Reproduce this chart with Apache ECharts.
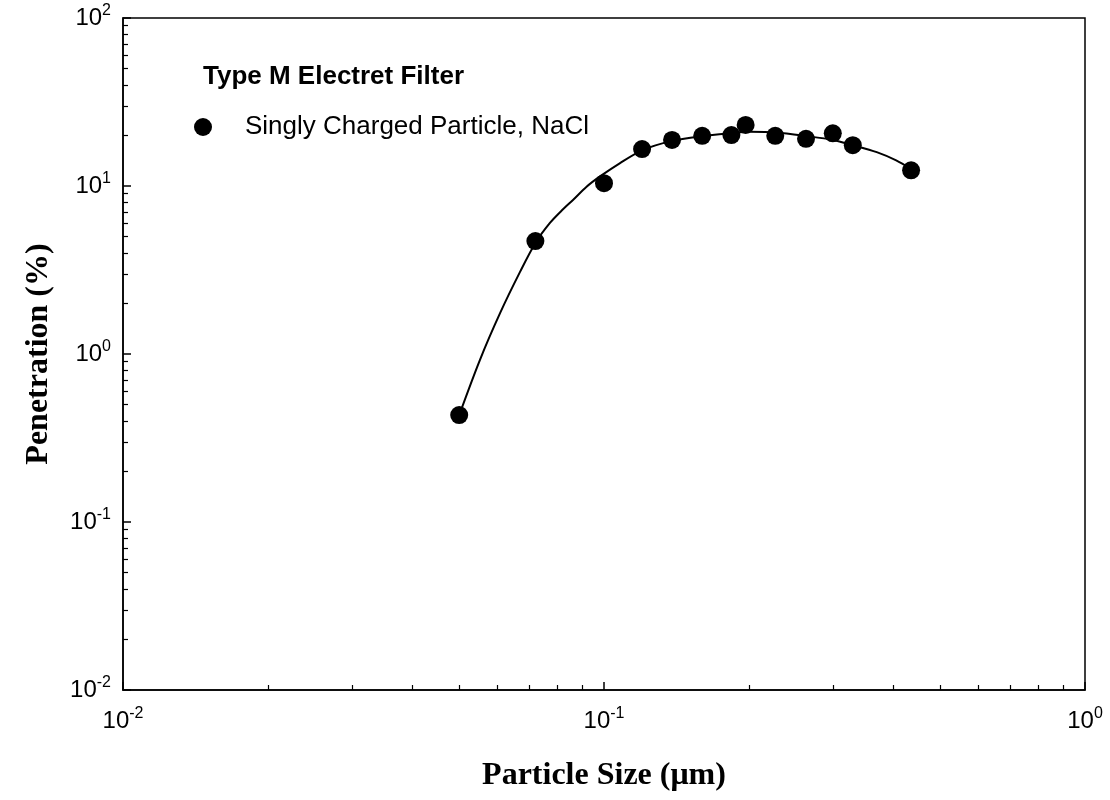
<!DOCTYPE html>
<html>
<head>
<meta charset="utf-8">
<script src="https://cdn.jsdelivr.net/npm/echarts@6/dist/echarts.min.js"></script>
<style>
html,body{margin:0;padding:0;background:#fff;}
#chart{width:1110px;height:800px;}
</style>
</head>
<body>
<div id="chart"></div>
<script>
// Measured points: particle size (µm) and penetration (%)
const sizes = [0.05, 0.072, 0.1, 0.12, 0.1385, 0.16, 0.184, 0.197, 0.227, 0.263, 0.299, 0.329, 0.435];
const penetration = [0.433, 4.7, 10.4, 16.6, 18.8, 19.9, 20.1, 23.1, 19.9, 19.1, 20.6, 17.5, 12.4];

// Fitted curve
const curveX = [0.05, 0.0552, 0.0608, 0.0669, 0.0722, 0.0772, 0.0815, 0.0862, 0.092, 0.0981, 0.108, 0.12, 0.1378, 0.16, 0.1837, 0.201, 0.228, 0.264, 0.299, 0.329, 0.369, 0.405, 0.435];
const curveY = [0.433, 0.921, 1.75, 3.08, 4.64, 6.03, 7.1, 8.26, 9.9, 11.4, 13.7, 16.3, 18.5, 19.8, 20.6, 21.0, 20.8, 19.8, 18.8, 17.5, 15.9, 14.2, 12.6];

const xMajor = [0.01, 0.1, 1];
const yMajor = [0.01, 0.1, 1, 10, 100];
const xMinor = [0.02,0.03,0.04,0.05,0.06,0.07,0.08,0.09,0.2,0.3,0.4,0.5,0.6,0.7,0.8,0.9];
const yMinor = [0.02,0.03,0.04,0.05,0.06,0.07,0.08,0.09,0.2,0.3,0.4,0.5,0.6,0.7,0.8,0.9,2,3,4,5,6,7,8,9,20,30,40,50,60,70,80,90];

const titleText = 'Type M Electret Filter';
const seriesName = 'Singly Charged Particle, NaCl';
const xName = 'Particle Size (\u03bcm)';
const yName = 'Penetration (%)';

const sans = 'Liberation Sans, Arial, sans-serif';
const serif = 'Liberation Serif, Times New Roman, serif';

function powLabel(v) {
  const e = Math.round(Math.log10(v));
  return '{b|10}{s|' + e + '}';
}
const richLabel = {
  b: {fontSize: 24, fontFamily: sans, color: '#000', lineHeight: 30},
  s: {fontSize: 16, fontFamily: sans, color: '#000', verticalAlign: 'top', lineHeight: 16}
};

const chart = echarts.init(document.getElementById('chart'));
chart.setOption({
  animation: false,
  backgroundColor: '#fff',
  title: {
    text: titleText,
    left: 198, top: 59,
    textStyle: {fontFamily: sans, fontWeight: 'bold', fontSize: 26, color: '#000'}
  },
  legend: {
    data: [seriesName],
    left: 189, top: 109,
    icon: 'circle',
    itemWidth: 18, itemHeight: 18,
    itemStyle: {color: '#000', opacity: 1},
    textStyle: {fontFamily: sans, fontSize: 26, color: '#000', padding: [0, 0, 0, 28]}
  },
  grid: {
    left: 123, right: 25, top: 18, bottom: 110,
    show: true, borderColor: '#000', borderWidth: 1.5
  },
  xAxis: [{
    type: 'log', logBase: 10, min: 0.01, max: 1,
    position: 'bottom',
    name: xName, nameLocation: 'middle', nameGap: 70,
    nameTextStyle: {fontFamily: serif, fontWeight: 'bold', fontSize: 32, color: '#000'},
    axisLine: {lineStyle: {color: '#000', width: 1.5}},
    axisTick: {inside: true, length: 8, lineStyle: {color: '#000', width: 1.5}, customValues: xMajor},
    axisLabel: {margin: 16, formatter: powLabel, rich: richLabel, customValues: xMajor, showMinLabel: true, showMaxLabel: true},
    splitLine: {show: false}
  }, {
    type: 'log', logBase: 10, min: 0.01, max: 1,
    position: 'bottom',
    axisLine: {show: false},
    axisTick: {inside: true, length: 5, lineStyle: {color: '#000', width: 1.2}, customValues: xMinor},
    axisLabel: {show: false},
    splitLine: {show: false}
  }],
  yAxis: [{
    type: 'log', logBase: 10, min: 0.01, max: 100,
    position: 'left',
    name: yName, nameLocation: 'middle', nameGap: 68, nameRotate: 90,
    nameTextStyle: {fontFamily: serif, fontWeight: 'bold', fontSize: 32, color: '#000'},
    axisLine: {lineStyle: {color: '#000', width: 1.5}},
    axisTick: {inside: true, length: 8, lineStyle: {color: '#000', width: 1.5}, customValues: yMajor},
    axisLabel: {margin: 12, formatter: powLabel, rich: richLabel, customValues: yMajor, showMinLabel: true, showMaxLabel: true},
    splitLine: {show: false}
  }, {
    type: 'log', logBase: 10, min: 0.01, max: 100,
    position: 'left',
    axisLine: {show: false},
    axisTick: {inside: true, length: 5, lineStyle: {color: '#000', width: 1.2}, customValues: yMinor},
    axisLabel: {show: false},
    splitLine: {show: false}
  }],
  series: [{
    name: 'fit',
    type: 'line',
    data: curveX.map((x, i) => [x, curveY[i]]),
    smooth: 0.3,
    showSymbol: false,
    symbol: 'none',
    lineStyle: {color: '#000', width: 2},
    z: 2
  }, {
    name: seriesName,
    type: 'scatter',
    data: sizes.map((x, i) => [x, penetration[i]]),
    symbol: 'circle',
    symbolSize: 18,
    itemStyle: {color: '#000', opacity: 1},
    z: 3
  }]
});
</script>
</body>
</html>
